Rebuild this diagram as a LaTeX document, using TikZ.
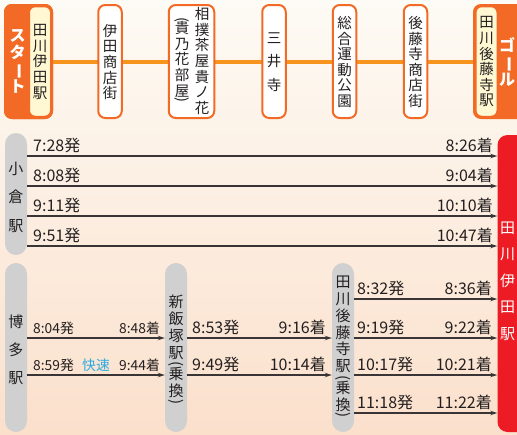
\documentclass[tikz,border=0pt]{standalone}
\usepackage{fontspec}
\setmainfont{Noto Sans CJK JP}
\usepackage{graphicx}
\usetikzlibrary{arrows.meta}
\definecolor{bgtop}{HTML}{FDFBF5}
\definecolor{bgmid}{HTML}{FEF8EF}
\definecolor{bgbot}{HTML}{FBE0CC}
\definecolor{lineorange}{HTML}{F7941E}
\definecolor{boxorange}{HTML}{F26A25}
\definecolor{creamfill}{HTML}{FFF8D2}
\definecolor{redfill}{HTML}{ED1C24}
\definecolor{pillgrey}{HTML}{D0D0D0}
\definecolor{inkdark}{HTML}{231F20}
\definecolor{rapidblue}{HTML}{29ABE2}
\newcommand{\vbar}{\rotatebox[origin=c]{-90}{ー}}
\newcommand{\vlp}{\rotatebox[origin=c]{-90}{(}}
\newcommand{\vrp}{\rotatebox[origin=c]{-90}{)}}
\begin{document}
\begin{tikzpicture}[x=1pt,y=-1pt,
  spotbox/.style={draw=boxorange,line width=2pt,fill=white,rounded corners=7pt,minimum width=23.5pt,minimum height=113pt,inner sep=0pt},
  endbox/.style={draw=boxorange,line width=2pt,fill=boxorange,rounded corners=7pt,minimum height=113pt,inner sep=0pt},
  creambox/.style={draw=boxorange,line width=1.5pt,fill=creamfill,rounded corners=6pt,minimum width=21.5pt,minimum height=110pt,inner sep=0pt},
  vtxt/.style={align=center,inner sep=0pt,text=inkdark,font=\fontsize{14.5}{15.6}\selectfont},
  wtxt/.style={align=center,inner sep=0pt,text=white,font=\fontsize{16}{17}\selectfont\bfseries},
  pill/.style={fill=pillgrey,rounded corners=11pt,minimum width=22pt,inner sep=0pt},
  ptxt/.style={align=center,inner sep=0pt,text=inkdark,font=\fontsize{15}{28.5}\selectfont},
  ptxtb/.style={align=center,inner sep=0pt,text=inkdark,font=\fontsize{15}{16.8}\selectfont},
  tl/.style={inner sep=0pt,text=inkdark,font=\fontsize{16}{16}\selectfont},
  tls/.style={inner sep=0pt,text=inkdark,font=\fontsize{13.8}{14}\selectfont},
  arr/.style={draw=inkdark!90,line width=1.4pt,-{Stealth[length=7pt,width=4.5pt]}},
]
\useasboundingbox (0,0) rectangle (517,434);
\clip (0,0) rectangle (517,434);
\shade[top color=bgtop,middle color=bgmid,bottom color=bgbot] (0,0) rectangle (517,434);

% ---------- top route ----------
\node[endbox,minimum width=47pt] (start) at (28.5,61.5) {};
\node[endbox,minimum width=56pt] (goal) at (502,61.5) {};
\draw[lineorange,line width=4pt] (start.east) -- (goal.west);
\node[endbox,minimum width=47pt] (startfg) at (28.5,61.5) {};
\node[creambox] (startname) at (40,61.5) {};
\node[vtxt] (startnametxt) at (40,62) {田\\川\\伊\\田\\駅};
\node[wtxt] (starttxt) at (17.5,61) {ス\\タ\\\vbar\\ト};

\node[spotbox] (s1) at (110,61.5) {};
\node[vtxt] (s1t) at (110,62) {伊\\田\\商\\店\\街};

\node[spotbox,minimum width=45.5pt] (s2) at (191.5,61.5) {};
\node[vtxt] (s2a) at (202,61) {相\\撲\\茶\\屋\\貴\\ノ\\花};
\node[vtxt] (s2b) at (182,61) {\vlp\\[-6pt]貴\\乃\\花\\部\\屋\\[-7pt]\vrp};

\node[spotbox] (s3) at (274,61.5) {};
\node[vtxt,font=\fontsize{14.5}{23.5}\selectfont] (s3t) at (274,62) {三\\井\\寺};

\node[spotbox] (s4) at (344.5,61.5) {};
\node[vtxt] (s4t) at (344.5,62) {総\\合\\運\\動\\公\\園};

\node[spotbox] (s5) at (415.5,61.5) {};
\node[vtxt] (s5t) at (415.5,62) {後\\藤\\寺\\商\\店\\街};

\node[creambox] (goalname) at (486.5,61.5) {};
\node[vtxt] (goalnametxt) at (486.5,62) {田\\川\\後\\藤\\寺\\駅};
\node[wtxt] (goaltxt) at (507,62) {ゴ\\\vbar\\ル};

% ---------- timetable ----------
\node[pill,minimum height=122pt] (kokura) at (16,194) {};
\node[ptxt] (kokurat) at (16,197) {小\\倉\\駅};
\node[pill,minimum height=169pt] (hakata) at (16,347.5) {};
\node[ptxt,font=\fontsize{15}{28}\selectfont] (hakatat) at (16,350) {博\\多\\駅};
\node[pill,minimum height=169pt] (iizuka) at (176,347.5) {};
\node[ptxtb] (iizukat) at (176,351) {新\\飯\\塚\\駅\\[-6pt]\vlp\\[-6pt]乗\\換\\[-7pt]\vrp};
\node[pill,minimum height=169pt] (gotoji) at (343,347.5) {};
\node[ptxtb] (gotojit) at (343,348) {田\\川\\後\\藤\\寺\\駅\\[-6pt]\vlp\\[-6pt]乗\\換\\[-7pt]\vrp};
\node[fill=redfill,rounded corners=10pt,minimum width=43pt,minimum height=297pt,inner sep=0pt] (tagawa) at (519,283.5) {};
\node[align=center,inner sep=0pt,text=white,font=\fontsize{15}{26.5}\selectfont] (tagawat) at (507.5,281) {田\\川\\伊\\田\\駅};

% row coordinates
\coordinate (k1) at (0,156);
\coordinate (k2) at (0,186);
\coordinate (k3) at (0,216);
\coordinate (k4) at (0,246);
\coordinate (b1) at (0,299);
\coordinate (b2) at (0,338);
\coordinate (b3) at (0,375);
\coordinate (b4) at (0,413);

% Kokura direct
\draw[arr] (kokura.east |- k1) -- (tagawa.west |- k1);
\draw[arr] (kokura.east |- k2) -- (tagawa.west |- k2);
\draw[arr] (kokura.east |- k3) -- (tagawa.west |- k3);
\draw[arr] (kokura.east |- k4) -- (tagawa.west |- k4);
\node[tl,anchor=base west] (k1d) at (33,151.5) {7:28発};
\node[tl,anchor=base west] (k2d) at (33,181.5) {8:08発};
\node[tl,anchor=base west] (k3d) at (33,211.5) {9:11発};
\node[tl,anchor=base west] (k4d) at (33,241.5) {9:51発};
\node[tl,anchor=base east] (k1a) at (493,151.5) {8:26着};
\node[tl,anchor=base east] (k2a) at (493,181.5) {9:04着};
\node[tl,anchor=base east] (k3a) at (493,211.5) {10:10着};
\node[tl,anchor=base east] (k4a) at (493,241.5) {10:47着};

% Hakata -> Shin-Iizuka
\draw[arr] (hakata.east |- b2) -- (iizuka.west |- b2);
\draw[arr] (hakata.east |- b3) -- (iizuka.west |- b3);
\node[tls,anchor=base west] (h1d) at (33,333.5) {8:04発};
\node[tls,anchor=base east] (h1a) at (160,333.5) {8:48着};
\node[tls,anchor=base west] (h2d) at (33,370.5) {8:59発};
\node[tls,anchor=base,text=rapidblue] (h2r) at (96,370.5) {快速};
\node[tls,anchor=base east] (h2a) at (160,370.5) {9:44着};

% Shin-Iizuka -> Gotoji
\draw[arr] (iizuka.east |- b2) -- (gotoji.west |- b2);
\draw[arr] (iizuka.east |- b3) -- (gotoji.west |- b3);
\node[tl,anchor=base west] (i1d) at (192,333.5) {8:53発};
\node[tl,anchor=base east] (i1a) at (326,333.5) {9:16着};
\node[tl,anchor=base west] (i2d) at (192,370.5) {9:49発};
\node[tl,anchor=base east] (i2a) at (326,370.5) {10:14着};

% Gotoji -> Tagawa-Ita
\draw[arr] (gotoji.east |- b1) -- (tagawa.west |- b1);
\draw[arr] (gotoji.east |- b2) -- (tagawa.west |- b2);
\draw[arr] (gotoji.east |- b3) -- (tagawa.west |- b3);
\draw[arr] (gotoji.east |- b4) -- (tagawa.west |- b4);
\node[tl,anchor=base west] (g1d) at (357,294.5) {8:32発};
\node[tl,anchor=base west] (g2d) at (357,333.5) {9:19発};
\node[tl,anchor=base west] (g3d) at (357,370.5) {10:17発};
\node[tl,anchor=base west] (g4d) at (357,408.5) {11:18発};
\node[tl,anchor=base east] (g1a) at (492,294.5) {8:36着};
\node[tl,anchor=base east] (g2a) at (492,333.5) {9:22着};
\node[tl,anchor=base east] (g3a) at (492,370.5) {10:21着};
\node[tl,anchor=base east] (g4a) at (492,408.5) {11:22着};
\end{tikzpicture}
\end{document}
